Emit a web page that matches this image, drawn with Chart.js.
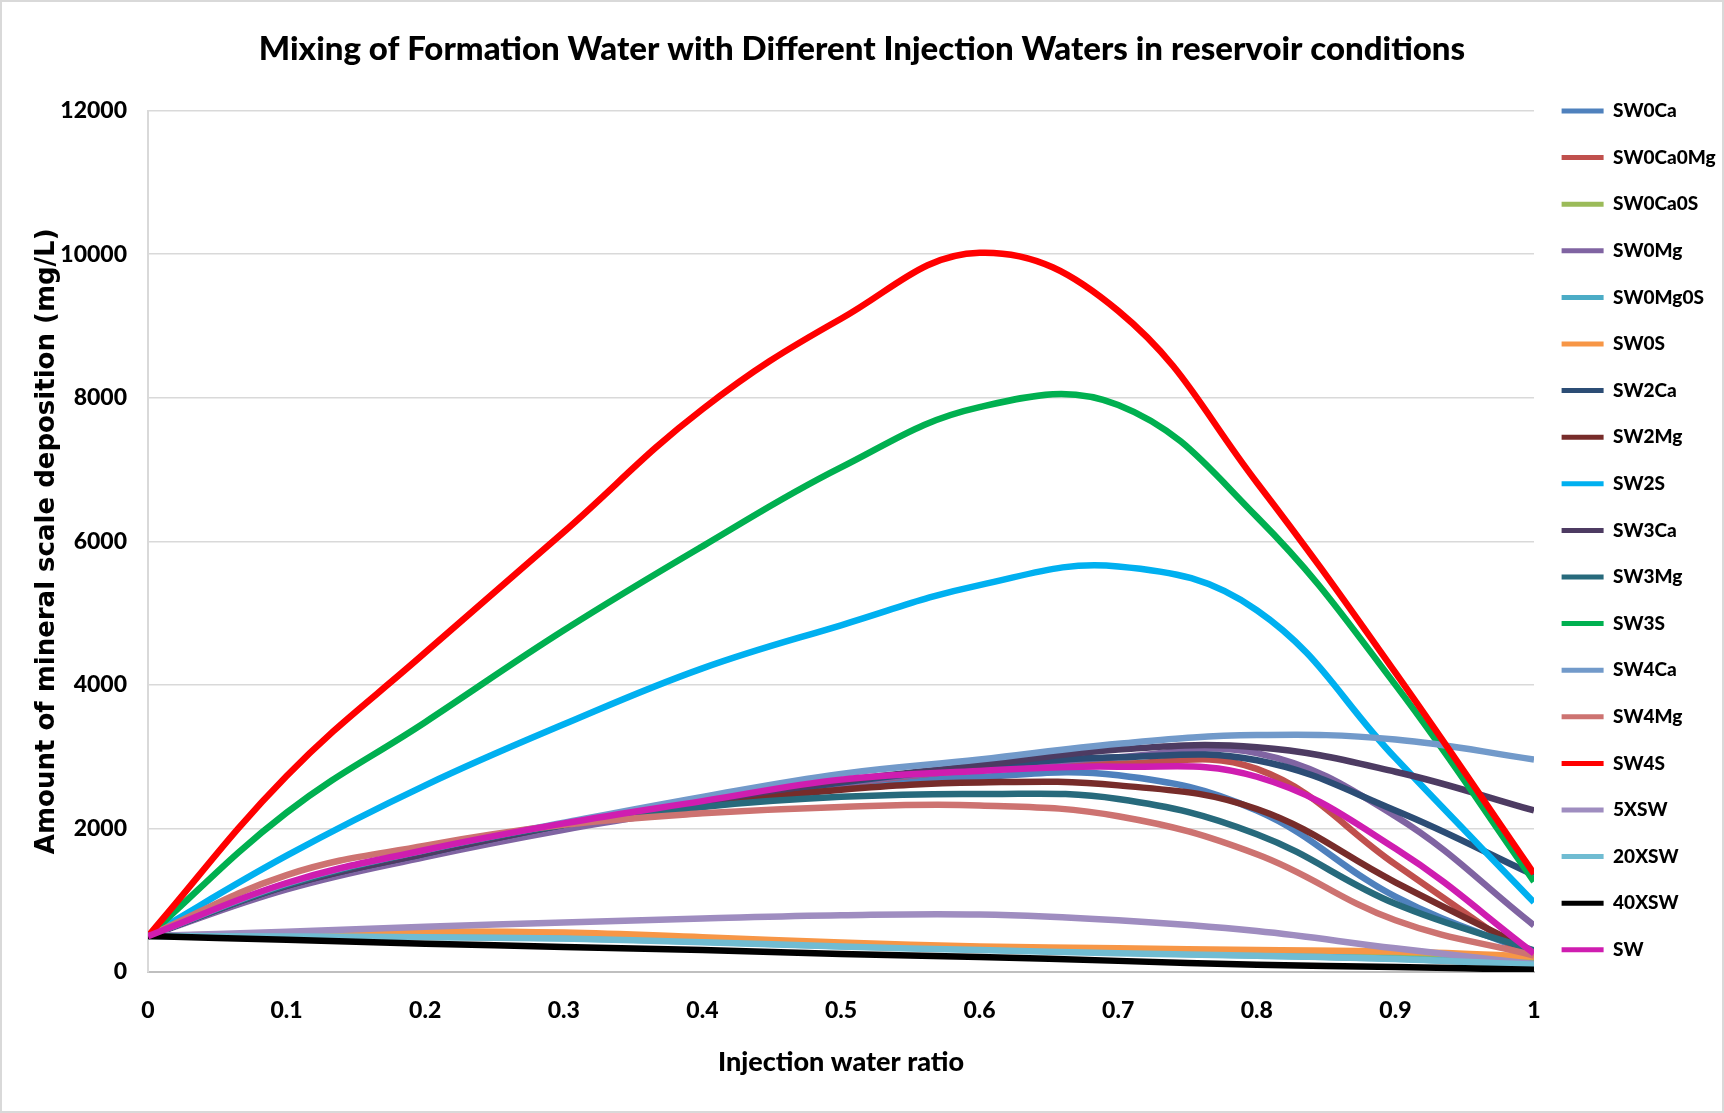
<!DOCTYPE html>
<html>
<head>
<meta charset="utf-8">
<title>Mixing of Formation Water with Different Injection Waters</title>
<script src="https://cdn.jsdelivr.net/npm/chart.js@4.4.1/dist/chart.umd.min.js"></script>
<style>
  html, body { margin: 0; padding: 0; background: #fff; }
  .frame { width: 1724px; height: 1113px; box-sizing: border-box; border: 2px solid #d9d9d9; background: #fff; }
  canvas { display: block; }
</style>
</head>
<body>
<div class="frame"><canvas id="myChart" width="1720" height="1109"></canvas></div>
<script>
// injection water ratio (x axis)
var ratio = [0, 0.1, 0.2, 0.3, 0.4, 0.5, 0.6, 0.7, 0.8, 0.9, 1];

var seriesNames = ['SW0Ca', 'SW0Ca0Mg', 'SW0Ca0S', 'SW0Mg', 'SW0Mg0S', 'SW0S', 'SW2Ca', 'SW2Mg', 'SW2S',
  'SW3Ca', 'SW3Mg', 'SW3S', 'SW4Ca', 'SW4Mg', 'SW4S', '5XSW', '20XSW', '40XSW', 'SW'];

var seriesColors = ['#4F81BD', '#C0504D', '#9BBB59', '#8064A2', '#4BACC6', '#F79646', '#2C4D75', '#772C2A', '#00B0F0',
  '#4D3B62', '#276A7C', '#00B050', '#729ACA', '#CD7371', '#FF0000', '#9F8DC0', '#70BCD2', '#000000', '#CF1DB0'];

// mineral scale deposition, mg/L
var sw0Ca    = [500, 1200, 1650, 2040, 2330, 2580, 2720, 2740, 2250, 1050, 250];
var sw0Ca0Mg = [500, 1200, 1650, 2050, 2350, 2620, 2820, 2900, 2830, 1500, 150];
var sw0Ca0S  = [500, 520, 545, 530, 460, 395, 345, 315, 290, 265, 190];
var sw0Mg    = [500, 1150, 1600, 1980, 2300, 2620, 2830, 2990, 3050, 2170, 650];
var sw0Mg0S  = [500, 505, 495, 470, 420, 360, 315, 270, 230, 185, 110];
var sw0S     = [500, 535, 565, 550, 485, 410, 355, 330, 305, 285, 215];
var sw2Ca    = [500, 1200, 1650, 2050, 2360, 2640, 2860, 2990, 2950, 2250, 1350];
var sw2Mg    = [500, 1220, 1690, 2060, 2320, 2540, 2640, 2600, 2270, 1250, 280];
var sw2S     = [500, 1620, 2600, 3450, 4230, 4830, 5390, 5650, 5040, 2980, 970];
var sw3Ca    = [500, 1200, 1650, 2050, 2370, 2660, 2880, 3100, 3130, 2790, 2250];
var sw3Mg    = [500, 1210, 1690, 2050, 2300, 2440, 2480, 2410, 1920, 950, 300];
var sw3S     = [500, 2220, 3480, 4760, 5930, 7030, 7870, 7900, 6340, 4000, 1260];
var sw4Ca    = [500, 1230, 1700, 2080, 2440, 2760, 2960, 3180, 3300, 3240, 2960];
var sw4Mg    = [500, 1350, 1760, 2050, 2210, 2300, 2320, 2170, 1640, 720, 230];
var sw4S     = [500, 2730, 4450, 6130, 7840, 9100, 10020, 9210, 6820, 4170, 1370];
var x5SW     = [500, 560, 630, 690, 745, 790, 800, 720, 570, 330, 110];
var x20SW    = [500, 495, 485, 465, 415, 355, 305, 260, 225, 180, 100];
var x40SW    = [500, 450, 395, 350, 305, 250, 210, 155, 100, 70, 30];
var sw       = [500, 1240, 1700, 2070, 2380, 2680, 2800, 2860, 2720, 1720, 260];

var seriesValues = [sw0Ca, sw0Ca0Mg, sw0Ca0S, sw0Mg, sw0Mg0S, sw0S, sw2Ca, sw2Mg, sw2S,
  sw3Ca, sw3Mg, sw3S, sw4Ca, sw4Mg, sw4S, x5SW, x20SW, x40SW, sw];

var yMax = 12000;
var yStep = 2000;
var xStep = 0.1;

document.addEventListener("DOMContentLoaded", function () {
  var mainFont = "Lato, 'DejaVu Sans Condensed', sans-serif";
  Chart.defaults.font.family = mainFont;
  Chart.defaults.color = '#000';

  var datasets = seriesNames.map(function (name, i) {
    return {
      label: name,
      data: ratio.map(function (x, j) { return { x: x, y: seriesValues[i][j] }; }),
      borderColor: seriesColors[i],
      backgroundColor: seriesColors[i],
      borderWidth: 6.5,
      pointRadius: 0,
      tension: 0.4,
      fill: false,
      order: seriesNames.length - i // later series on top, like in Excel
    };
  });

  var ctx = document.getElementById('myChart').getContext('2d');
  var chart = new Chart(ctx, {
    type: 'line',
    data: { datasets: datasets },
    options: {
      responsive: false,
      animation: false,
      devicePixelRatio: 1,
      plugins: {
        title: {
          display: true,
          text: 'Mixing of Formation Water with Different Injection Waters in reservoir conditions',
          color: '#000',
          font: { family: mainFont, size: 33, weight: 900 },
          padding: { top: 28, bottom: 41 }
        },
        legend: {
          position: 'right',
          align: 'start',
          maxWidth: 188,
          // empty title only pushes the list down to the plot top
          title: { display: true, text: '', padding: { top: 0, bottom: 57.5 } },
          labels: {
            boxWidth: 42,
            boxHeight: 5,
            padding: 27.6,
            color: '#000',
            font: { family: mainFont, size: 19, weight: 900 },
            sort: function (a, b) { return a.datasetIndex - b.datasetIndex; },
            generateLabels: function (chart) {
              var items = Chart.defaults.plugins.legend.labels.generateLabels(chart);
              items.forEach(function (item) {
                item.fillStyle = item.strokeStyle;
                item.lineWidth = 0;
              });
              return items;
            }
          }
        },
        tooltip: { enabled: false }
      },
      scales: {
        x: {
          type: 'linear',
          min: 0,
          max: 1,
          ticks: {
            stepSize: xStep,
            padding: 25,
            color: '#000',
            font: { family: mainFont, size: 23, weight: 900 },
            callback: function (value) { return Math.round(value * 10) / 10; }
          },
          grid: { display: false, drawTicks: false },
          border: { color: '#bfbfbf', width: 2 },
          title: {
            display: true,
            text: 'Injection water ratio',
            color: '#000',
            font: { family: mainFont, size: 27, weight: 900 },
            padding: { top: 0, bottom: 33 }
          },
          afterFit: function (scale) { scale.height = 139; }
        },
        y: {
          min: 0,
          max: yMax,
          ticks: {
            stepSize: yStep,
            padding: 21,
            color: '#000',
            font: { family: mainFont, size: 23, weight: 900 },
            callback: function (value) { return value; }
          },
          grid: { color: '#d9d9d9', lineWidth: 1.5, drawTicks: false },
          border: { color: '#d9d9d9', width: 2 },
          title: {
            display: true,
            text: 'Amount of mineral scale deposition (mg/L)',
            color: '#000',
            font: { family: "'DejaVu Sans', Verdana, sans-serif", size: 26, weight: 'bold' },
            padding: { top: 30, bottom: 0 }
          },
          afterFit: function (scale) { scale.width = 146; }
        }
      }
    }
  });
});
</script>
</body>
</html>
